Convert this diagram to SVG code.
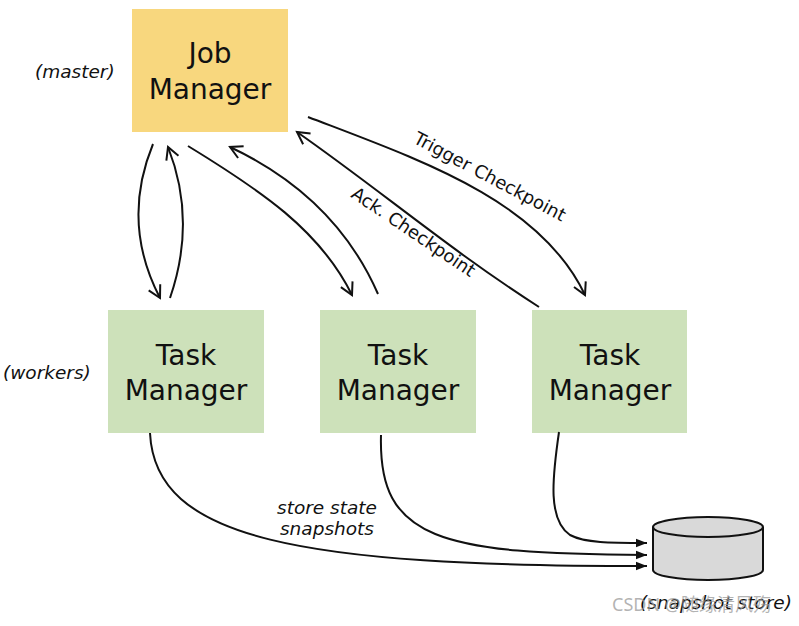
<svg xmlns="http://www.w3.org/2000/svg" width="799" height="626" viewBox="0 0 799 626">
<style>
.box-title{font-family:"DejaVu Sans","Verdana",sans-serif;font-size:28px;fill:#111;text-anchor:middle}
.lbl{font-family:"DejaVu Sans","Verdana",sans-serif;font-size:18.5px;font-style:italic;fill:#111}
.edge-lbl{font-family:"DejaVu Sans","Verdana",sans-serif;font-size:18px;fill:#111;text-anchor:middle}
.conn{fill:none;stroke:#111;stroke-width:2}
.jm{fill:#F8D77E}
.tm{fill:#CDE1BA}
</style>
<defs>
<marker id="open" markerUnits="userSpaceOnUse" markerWidth="16" markerHeight="16" refX="13" refY="8" orient="auto" viewBox="0 0 16 16">
<path d="M1,1.5 L13,8 L1,14.5" fill="none" stroke="#111" stroke-width="2" stroke-linejoin="miter"/>
</marker>
<marker id="solid" markerUnits="userSpaceOnUse" markerWidth="12" markerHeight="10" refX="11" refY="5" orient="auto" viewBox="0 0 12 10">
<path d="M0,0.8 L11,5 L0,9.2 Z" fill="#111"/>
</marker>
</defs>
<rect width="799" height="626" fill="#fff"/>

<g id="job-manager">
<rect class="jm" x="132" y="9" width="156" height="123"/>
<text class="box-title" x="210" y="63">Job</text>
<text class="box-title" x="210" y="99">Manager</text>
</g>

<g id="task-manager-1">
<rect class="tm" x="108" y="310" width="156" height="123"/>
<text class="box-title" x="186" y="365">Task</text>
<text class="box-title" x="186" y="400">Manager</text>
</g>

<g id="task-manager-2">
<rect class="tm" x="320" y="310" width="156" height="123"/>
<text class="box-title" x="398" y="365">Task</text>
<text class="box-title" x="398" y="400">Manager</text>
</g>

<g id="task-manager-3">
<rect class="tm" x="532" y="310" width="155" height="123"/>
<text class="box-title" x="610" y="365">Task</text>
<text class="box-title" x="610" y="400">Manager</text>
</g>

<g id="snapshot-store">
<path d="M653,527 L653,570 A55,10 0 0 0 763,570 L763,527" fill="#D9D9D9" stroke="#111" stroke-width="2"/>
<ellipse cx="708" cy="527" rx="55" ry="10" fill="#D9D9D9" stroke="#111" stroke-width="2"/>
</g>

<g id="labels">
<text class="lbl" x="35" y="78">(master)</text>
<text class="lbl" x="3" y="379">(workers)</text>
<text class="lbl" x="716" y="609" text-anchor="middle">(snapshot store)</text>
<text class="lbl" x="327" y="514" text-anchor="middle">store state</text>
<text class="lbl" x="327" y="535" text-anchor="middle">snapshots</text>
</g>

<g id="connectors">
<path class="conn" d="M153,144 C130,200 135,250 160,298" marker-end="url(#open)"/>
<path class="conn" d="M170,298 C190,240 185,190 168,147" marker-end="url(#open)"/>
<path class="conn" d="M188,146 C260,190 320,230 352,295" marker-end="url(#open)"/>
<path class="conn" d="M378,294 C350,230 300,180 230,147" marker-end="url(#open)"/>
<path class="conn" d="M308,117 C420,160 540,200 585,295" marker-end="url(#open)"/>
<path class="conn" d="M539,307 C450,250 380,190 297,132" marker-end="url(#open)"/>
<path class="conn" d="M150,433 C155,540 300,566 647,566" marker-end="url(#solid)"/>
<path class="conn" d="M381,435 C378,540 440,554 647,555" marker-end="url(#solid)"/>
<path class="conn" d="M559,432 C552,480 548,520 570,535 C585,543 610,543 647,543" marker-end="url(#solid)"/>
<text class="edge-lbl" transform="translate(487,182) rotate(28)">Trigger Checkpoint</text>
<text class="edge-lbl" transform="translate(410,237) rotate(34)">Ack. Checkpoint</text>
</g>

<text x="612" y="611" font-family="'Noto Sans','Noto Sans CJK SC',sans-serif" font-size="18" fill="#9a9a9a" fill-opacity="0.75">CSDN @随缘清风殇</text>
</svg>
